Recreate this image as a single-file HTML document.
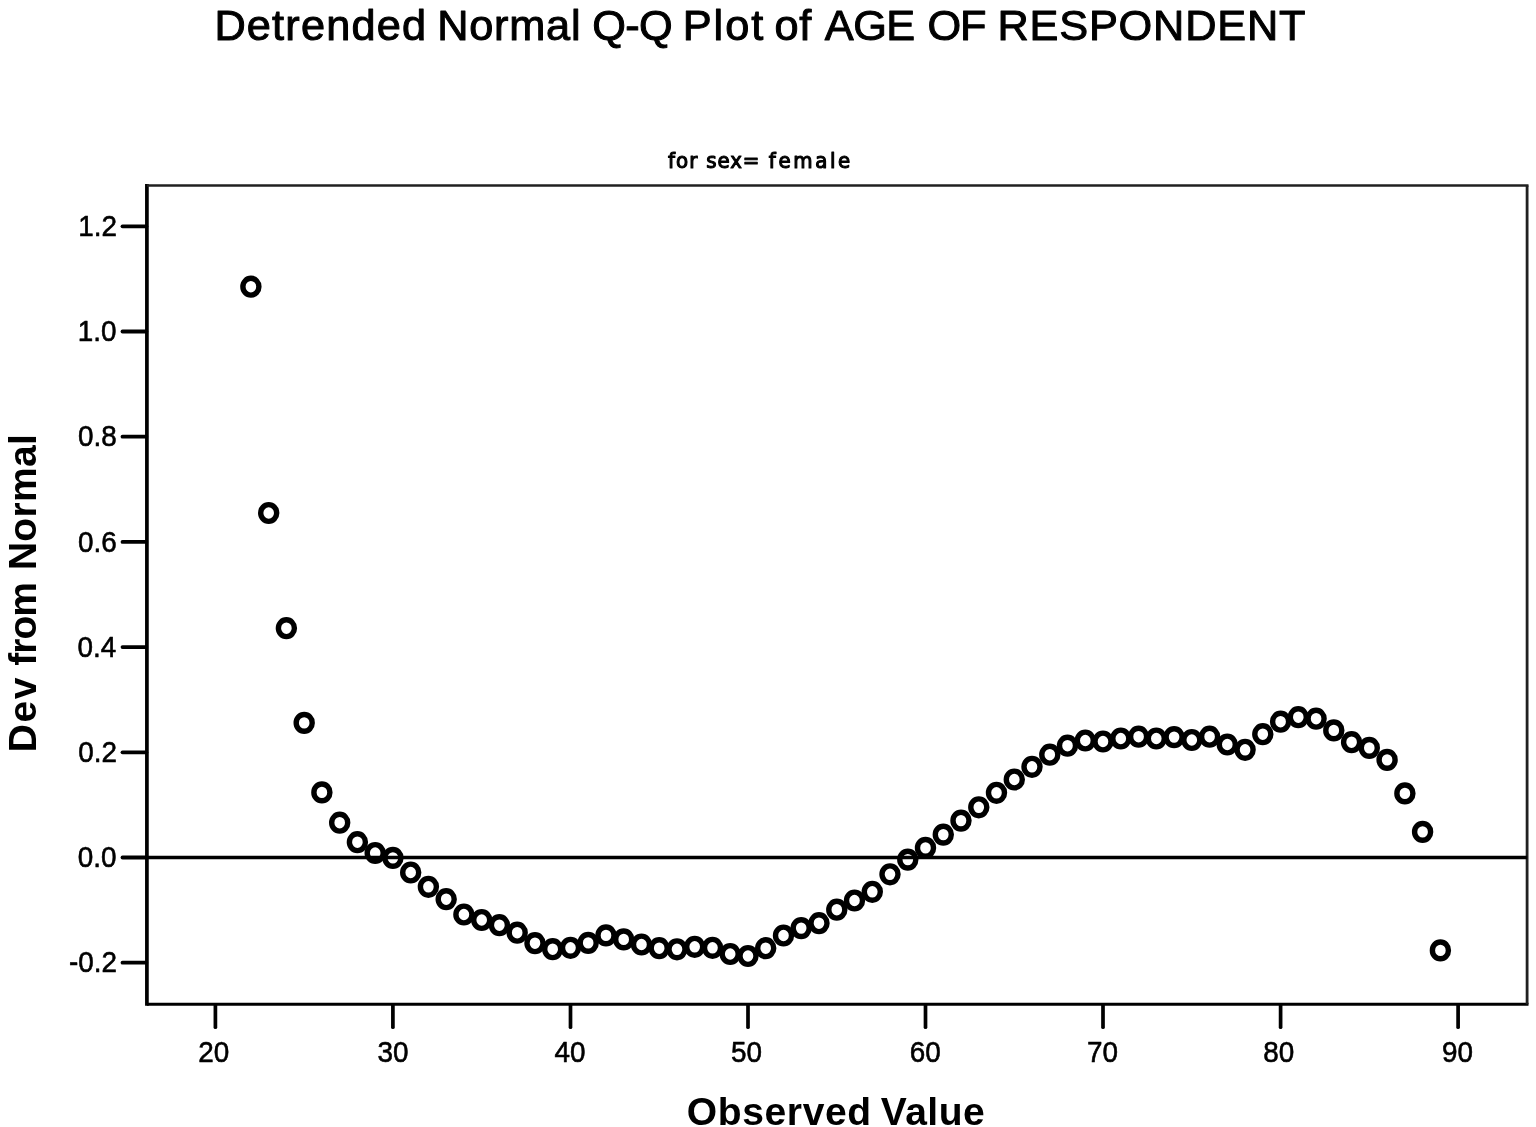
<!DOCTYPE html>
<html lang="en">
<head>
<meta charset="utf-8">
<title>Detrended Normal Q-Q Plot of AGE OF RESPONDENT</title>
<style>
html,body{margin:0;padding:0;background:#fff;}
body{width:1536px;height:1127px;overflow:hidden;position:relative;}
svg{position:absolute;left:0;top:0;display:block;}
text{font-family:"Liberation Sans",sans-serif;fill:#000;stroke:#000;stroke-linejoin:round;white-space:pre;}
.title{font-size:43.3px;font-weight:normal;stroke-width:1.0px;}
.sub{font-family:"DejaVu Sans Condensed","Liberation Sans",sans-serif;font-size:22px;font-weight:normal;stroke-width:1.1px;}
.tick{font-size:30.3px;font-weight:normal;stroke-width:0.6px;letter-spacing:0.0px;}
.axis{font-size:39px;font-weight:bold;stroke-width:0.0px;}
.ln{stroke:#000;fill:none;}
.mk ellipse{fill:none;stroke:#000;stroke-width:5.4;}
</style>
</head>
<body>
<svg width="1536" height="1127" viewBox="0 0 1536 1127">
<rect x="0" y="0" width="1536" height="1127" fill="#ffffff"/>
<text class="title" y="40.4"><tspan x="214.38" style="letter-spacing:1.18px">Detrended </tspan><tspan x="437.15" style="letter-spacing:0.77px">Normal </tspan><tspan x="592.33" style="letter-spacing:-0.72px">Q-Q </tspan><tspan x="682.80" style="letter-spacing:1.92px">Plot </tspan><tspan x="774.60" style="letter-spacing:0.60px">of </tspan><tspan x="824.80" style="letter-spacing:-0.50px">AGE </tspan><tspan x="927.47" style="letter-spacing:-1.10px">OF </tspan><tspan x="997.45" style="letter-spacing:0.82px">RESPONDENT</tspan></text>
<text class="sub" y="167.8"><tspan textLength="37.58" lengthAdjust="spacing" x="668.02" style="letter-spacing:1.02px">for </tspan><tspan textLength="61.09" lengthAdjust="spacing" x="706.35" style="letter-spacing:0.88px">sex= </tspan><tspan textLength="84.14" lengthAdjust="spacing" x="768.80" style="letter-spacing:2.65px">female</tspan></text>
<line class="ln" x1="146.9" y1="184.1" x2="146.9" y2="1005.8" stroke-width="3.7"/>
<line class="ln" x1="146.9" y1="1004.3" x2="1528.5" y2="1004.3" stroke-width="3.1"/>
<line class="ln" x1="146.9" y1="185.4" x2="1528.5" y2="185.4" stroke-width="2.5" style="stroke:#202020"/>
<line class="ln" x1="1527.1" y1="185.4" x2="1527.1" y2="1004.3" stroke-width="2.8" style="stroke:#202020"/>
<line class="ln" x1="146.9" y1="857.5" x2="1527.1" y2="857.5" stroke-width="3.7"/>
<g class="yt">
<line class="ln" x1="122.5" y1="962.7" x2="146.3" y2="962.7" stroke-width="3.8" stroke-linecap="round"/><text class="tick" transform="translate(68.95 972.4) scale(0.92 1)">-0.2</text>
<line class="ln" x1="122.5" y1="857.5" x2="146.3" y2="857.5" stroke-width="3.8" stroke-linecap="round"/><text class="tick" transform="translate(77.70 867.1) scale(0.92 1)">0.0</text>
<line class="ln" x1="122.5" y1="752.3" x2="146.3" y2="752.3" stroke-width="3.8" stroke-linecap="round"/><text class="tick" transform="translate(78.20 761.9) scale(0.92 1)">0.2</text>
<line class="ln" x1="122.5" y1="647.1" x2="146.3" y2="647.1" stroke-width="3.8" stroke-linecap="round"/><text class="tick" transform="translate(77.45 656.8) scale(0.92 1)">0.4</text>
<line class="ln" x1="122.5" y1="541.9" x2="146.3" y2="541.9" stroke-width="3.8" stroke-linecap="round"/><text class="tick" transform="translate(77.95 551.5) scale(0.92 1)">0.6</text>
<line class="ln" x1="122.5" y1="436.7" x2="146.3" y2="436.7" stroke-width="3.8" stroke-linecap="round"/><text class="tick" transform="translate(77.95 446.3) scale(0.92 1)">0.8</text>
<line class="ln" x1="122.5" y1="331.5" x2="146.3" y2="331.5" stroke-width="3.8" stroke-linecap="round"/><text class="tick" transform="translate(77.70 341.1) scale(0.92 1)">1.0</text>
<line class="ln" x1="122.5" y1="226.3" x2="146.3" y2="226.3" stroke-width="3.8" stroke-linecap="round"/><text class="tick" transform="translate(78.20 235.9) scale(0.92 1)">1.2</text>
</g>
<g class="xt">
<line class="ln" x1="215.4" y1="1004.8" x2="215.4" y2="1027.2" stroke-width="3.7" stroke-linecap="round"/><text class="tick" transform="translate(198.20 1062.0) scale(0.92 1)">20</text>
<line class="ln" x1="392.9" y1="1004.8" x2="392.9" y2="1027.2" stroke-width="3.7" stroke-linecap="round"/><text class="tick" transform="translate(377.53 1062.0) scale(0.92 1)">30</text>
<line class="ln" x1="570.5" y1="1004.8" x2="570.5" y2="1027.2" stroke-width="3.7" stroke-linecap="round"/><text class="tick" transform="translate(554.61 1062.0) scale(0.92 1)">40</text>
<line class="ln" x1="748.0" y1="1004.8" x2="748.0" y2="1027.2" stroke-width="3.7" stroke-linecap="round"/><text class="tick" transform="translate(730.89 1062.0) scale(0.92 1)">50</text>
<line class="ln" x1="925.5" y1="1004.8" x2="925.5" y2="1027.2" stroke-width="3.7" stroke-linecap="round"/><text class="tick" transform="translate(909.77 1062.0) scale(0.92 1)">60</text>
<line class="ln" x1="1103.0" y1="1004.8" x2="1103.0" y2="1027.2" stroke-width="3.7" stroke-linecap="round"/><text class="tick" transform="translate(1086.90 1062.0) scale(0.92 1)">70</text>
<line class="ln" x1="1280.6" y1="1004.8" x2="1280.6" y2="1027.2" stroke-width="3.7" stroke-linecap="round"/><text class="tick" transform="translate(1263.26 1062.0) scale(0.92 1)">80</text>
<line class="ln" x1="1458.1" y1="1004.8" x2="1458.1" y2="1027.2" stroke-width="3.7" stroke-linecap="round"/><text class="tick" transform="translate(1442.08 1062.0) scale(0.92 1)">90</text>
</g>
<text class="axis" y="1125.4"><tspan x="686.78" style="letter-spacing:0.64px">Observed </tspan><tspan x="880.78" style="letter-spacing:0.51px">Value</tspan></text>
<text class="axis" transform="translate(35.8 749.7) rotate(-90)" y="0"><tspan x="-2.55" style="letter-spacing:1.57px">Dev </tspan><tspan x="83.90" style="letter-spacing:-0.97px">from </tspan><tspan x="179.58" style="letter-spacing:0.33px">Normal</tspan></text>
<g class="mk">
<ellipse cx="250.9" cy="286.7" rx="8.0" ry="8.4"/>
<ellipse cx="268.7" cy="513.0" rx="8.0" ry="8.4"/>
<ellipse cx="286.4" cy="628.2" rx="8.0" ry="8.4"/>
<ellipse cx="304.2" cy="722.9" rx="8.0" ry="8.4"/>
<ellipse cx="321.9" cy="792.4" rx="8.0" ry="8.4"/>
<ellipse cx="339.7" cy="822.7" rx="8.0" ry="8.4"/>
<ellipse cx="357.4" cy="842.2" rx="8.0" ry="8.4"/>
<ellipse cx="375.2" cy="853.0" rx="8.0" ry="8.4"/>
<ellipse cx="392.9" cy="857.9" rx="8.0" ry="8.4"/>
<ellipse cx="410.7" cy="872.5" rx="8.0" ry="8.4"/>
<ellipse cx="428.4" cy="886.8" rx="8.0" ry="8.4"/>
<ellipse cx="446.2" cy="899.2" rx="8.0" ry="8.4"/>
<ellipse cx="463.9" cy="914.5" rx="8.0" ry="8.4"/>
<ellipse cx="481.7" cy="920.0" rx="8.0" ry="8.4"/>
<ellipse cx="499.4" cy="925.2" rx="8.0" ry="8.4"/>
<ellipse cx="517.2" cy="932.7" rx="8.0" ry="8.4"/>
<ellipse cx="535.0" cy="943.2" rx="8.0" ry="8.4"/>
<ellipse cx="552.7" cy="949.2" rx="8.0" ry="8.4"/>
<ellipse cx="570.5" cy="947.8" rx="8.0" ry="8.4"/>
<ellipse cx="588.2" cy="942.9" rx="8.0" ry="8.4"/>
<ellipse cx="606.0" cy="935.4" rx="8.0" ry="8.4"/>
<ellipse cx="623.7" cy="939.4" rx="8.0" ry="8.4"/>
<ellipse cx="641.5" cy="944.5" rx="8.0" ry="8.4"/>
<ellipse cx="659.2" cy="948.2" rx="8.0" ry="8.4"/>
<ellipse cx="677.0" cy="949.3" rx="8.0" ry="8.4"/>
<ellipse cx="694.7" cy="946.8" rx="8.0" ry="8.4"/>
<ellipse cx="712.5" cy="947.8" rx="8.0" ry="8.4"/>
<ellipse cx="730.2" cy="954.0" rx="8.0" ry="8.4"/>
<ellipse cx="748.0" cy="956.0" rx="8.0" ry="8.4"/>
<ellipse cx="765.7" cy="948.2" rx="8.0" ry="8.4"/>
<ellipse cx="783.5" cy="935.5" rx="8.0" ry="8.4"/>
<ellipse cx="801.2" cy="928.1" rx="8.0" ry="8.4"/>
<ellipse cx="819.0" cy="923.2" rx="8.0" ry="8.4"/>
<ellipse cx="836.8" cy="909.7" rx="8.0" ry="8.4"/>
<ellipse cx="854.5" cy="900.5" rx="8.0" ry="8.4"/>
<ellipse cx="872.3" cy="891.8" rx="8.0" ry="8.4"/>
<ellipse cx="890.0" cy="874.3" rx="8.0" ry="8.4"/>
<ellipse cx="907.8" cy="859.6" rx="8.0" ry="8.4"/>
<ellipse cx="925.5" cy="847.9" rx="8.0" ry="8.4"/>
<ellipse cx="943.3" cy="834.6" rx="8.0" ry="8.4"/>
<ellipse cx="961.0" cy="820.6" rx="8.0" ry="8.4"/>
<ellipse cx="978.8" cy="807.3" rx="8.0" ry="8.4"/>
<ellipse cx="996.5" cy="792.8" rx="8.0" ry="8.4"/>
<ellipse cx="1014.3" cy="779.5" rx="8.0" ry="8.4"/>
<ellipse cx="1032.0" cy="766.8" rx="8.0" ry="8.4"/>
<ellipse cx="1049.8" cy="754.7" rx="8.0" ry="8.4"/>
<ellipse cx="1067.5" cy="745.7" rx="8.0" ry="8.4"/>
<ellipse cx="1085.3" cy="740.5" rx="8.0" ry="8.4"/>
<ellipse cx="1103.0" cy="741.5" rx="8.0" ry="8.4"/>
<ellipse cx="1120.8" cy="738.5" rx="8.0" ry="8.4"/>
<ellipse cx="1138.6" cy="736.7" rx="8.0" ry="8.4"/>
<ellipse cx="1156.3" cy="738.5" rx="8.0" ry="8.4"/>
<ellipse cx="1174.1" cy="737.1" rx="8.0" ry="8.4"/>
<ellipse cx="1191.8" cy="740.0" rx="8.0" ry="8.4"/>
<ellipse cx="1209.6" cy="736.7" rx="8.0" ry="8.4"/>
<ellipse cx="1227.3" cy="744.5" rx="8.0" ry="8.4"/>
<ellipse cx="1245.1" cy="749.8" rx="8.0" ry="8.4"/>
<ellipse cx="1262.8" cy="734.2" rx="8.0" ry="8.4"/>
<ellipse cx="1280.6" cy="721.7" rx="8.0" ry="8.4"/>
<ellipse cx="1298.3" cy="717.2" rx="8.0" ry="8.4"/>
<ellipse cx="1316.1" cy="718.7" rx="8.0" ry="8.4"/>
<ellipse cx="1333.8" cy="730.4" rx="8.0" ry="8.4"/>
<ellipse cx="1351.6" cy="742.2" rx="8.0" ry="8.4"/>
<ellipse cx="1369.3" cy="747.9" rx="8.0" ry="8.4"/>
<ellipse cx="1387.1" cy="759.9" rx="8.0" ry="8.4"/>
<ellipse cx="1404.9" cy="793.4" rx="8.0" ry="8.4"/>
<ellipse cx="1422.6" cy="831.9" rx="8.0" ry="8.4"/>
<ellipse cx="1440.4" cy="950.4" rx="8.0" ry="8.4"/>
</g>
</svg>
</body>
</html>
